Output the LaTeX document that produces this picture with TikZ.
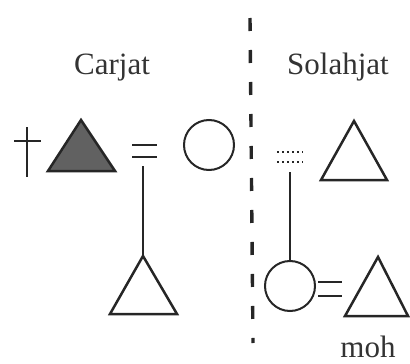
\documentclass[tikz,border=0pt]{standalone}
\usepackage{fontspec}
\setmainfont{Liberation Serif}
\begin{document}
\begin{tikzpicture}[x=1pt,y=-1pt,
  ink/.style={draw=black!85},
  tri/.style={ink, line width=2.5pt, line join=miter},
  circ/.style={ink, line width=2pt, circle, minimum size=50pt, inner sep=0pt},
  eq/.style={ink, line width=2.8pt},
  dotteq/.style={ink, line width=2.8pt, dash pattern=on 2.2pt off 2.8pt},
  link/.style={ink, line width=1.8pt},
  divider/.style={ink, line width=3.4pt, dash pattern=on 13pt off 19pt},
  lbl/.style={font=\fontsize{31}{31}\selectfont, text=black!80, anchor=base, inner sep=0pt}]
\useasboundingbox (0,0) rectangle (410,364);
% dividing line
\coordinate (dtop) at (250,18);
\coordinate (dbot) at (253,343);
\draw[divider] (dtop) -- (dbot);
% labels
\node[lbl] (carjat) at (112,74) {Carjat};
\node[lbl] (solahjat) at (338,74) {Solahjat};
\node[lbl] (moh) at (368,357) {moh};
% dagger
\draw[ink, line width=2.2pt] (27,127) -- (27,177);
\draw[ink, line width=2.2pt] (14,141) -- (41,141);
% filled triangle (deceased)
\draw[tri, fill=black!62] (48,171) -- (81,120) -- (115,171) -- cycle;
% marriage = left
\draw[eq] (132,145) -- (157,145);
\draw[eq] (132,157) -- (157,157);
\coordinate (m1) at (143,166);
% wife circle left
\node[circ] (w1) at (209,145) {};
% child triangle left
\coordinate (c1) at (143,256);
\draw[tri] (110,314) -- (c1) -- (177,314) -- cycle;
\draw[link] (m1) -- (c1);
% right side: dotted marriage
\draw[dotteq] (277,152) -- (303,152);
\draw[dotteq] (277,162) -- (303,162);
\coordinate (m2) at (290,172);
% top right triangle
\draw[tri] (321,180) -- (354,121) -- (387,180) -- cycle;
% child circle right
\node[circ] (w2) at (290,286) {};
\draw[link] (m2) -- (w2.north);
% marriage = bottom
\draw[eq] (318,282) -- (342,282);
\draw[eq] (318,296) -- (342,296);
% husband triangle bottom right
\draw[tri] (345,316) -- (378,257) -- (408,316) -- cycle;
\end{tikzpicture}
\end{document}
